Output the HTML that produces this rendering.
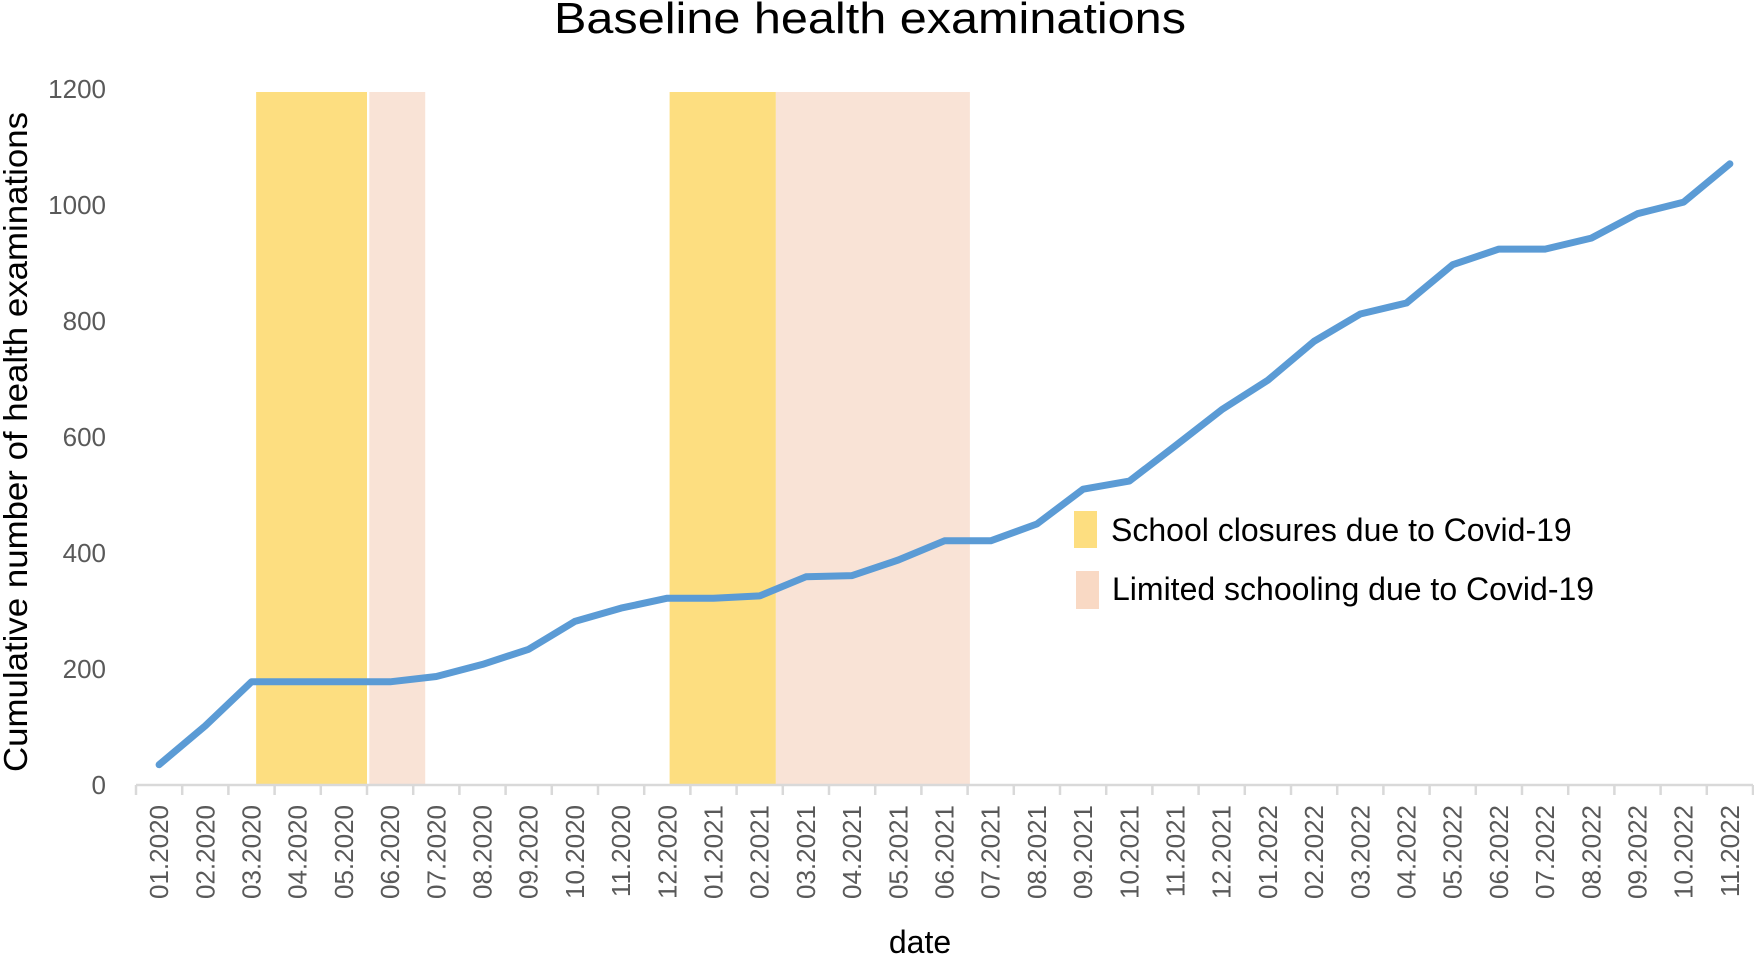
<!DOCTYPE html>
<html><head><meta charset="utf-8"><style>
html,body{margin:0;padding:0;background:#fff;}
svg{display:block;}
</style></head><body>
<svg id="chart" width="1754" height="956" viewBox="0 0 1754 956" xmlns="http://www.w3.org/2000/svg" font-family="'Liberation Sans', sans-serif">
<text x="870" y="33" font-size="44" text-anchor="middle" fill="#000" textLength="632" lengthAdjust="spacingAndGlyphs">Baseline health examinations</text>
<text transform="translate(27,442) rotate(-90)" font-size="33" text-anchor="middle" fill="#000" textLength="660" lengthAdjust="spacingAndGlyphs">Cumulative number of health examinations</text>
<text x="920" y="953" font-size="32" text-anchor="middle" fill="#000">date</text>
<g id="bands"></g>
<g id="axes"></g>
<g id="series"></g>
<g>
<rect x="1074" y="511" width="23" height="37" fill="#fdde80"/>
<text x="1111" y="541" font-size="32" fill="#000">School closures due to Covid-19</text>
<rect x="1076" y="571" width="23" height="38" fill="#f9d9c4"/>
<text x="1112" y="600" font-size="32" fill="#000">Limited schooling due to Covid-19</text>
</g>
</svg>
<script>
const categories = ["01.2020","02.2020","03.2020","04.2020","05.2020","06.2020","07.2020","08.2020","09.2020","10.2020","11.2020","12.2020","01.2021","02.2021","03.2021","04.2021","05.2021","06.2021","07.2021","08.2021","09.2021","10.2021","11.2021","12.2021","01.2022","02.2022","03.2022","04.2022","05.2022","06.2022","07.2022","08.2022","09.2022","10.2022","11.2022"];
const examValues = [35,102,178,178,178,178,187,208,234,282,305,322,322,326,359,361,388,421,421,450,510,524,585,647,698,765,812,831,897,924,924,943,985,1005,1071];
const yTicks = [0,200,400,600,800,1000,1200];
const closureBands = [[2.6,5.0],[11.55,13.85]];
const limitedBands = [[5.05,6.26],[13.85,18.05]];

const NS = "http://www.w3.org/2000/svg";
const X0 = 136, CW = 46.2, Y0 = 785, YTOP = 89, YMAX = 1200;
function xEdge(i){ return X0 + i*CW; }
function xCenter(i){ return X0 + (i+0.5)*CW; }
function yScale(v){ return Y0 - (v/YMAX)*(Y0-YTOP); }
function mk(tag, attrs, parent){ const e=document.createElementNS(NS,tag); for(const k in attrs) e.setAttribute(k,attrs[k]); parent.appendChild(e); return e; }

const bands = document.getElementById('bands');
closureBands.forEach(b=>{
  const r = mk('rect',{x:xEdge(b[0]),y:yScale(YMAX)+3,width:xEdge(b[1])-xEdge(b[0]),height:Y0-yScale(YMAX)-3,fill:'#fdde80'},bands);
  
  
});
limitedBands.forEach(b=>{
  const r = mk('rect',{x:xEdge(b[0]),y:yScale(YMAX)+3,width:xEdge(b[1])-xEdge(b[0]),height:Y0-yScale(YMAX)-3,fill:'#f9e3d6'},bands);
  
  
});

const axes = document.getElementById('axes');
const axisLine = mk('line',{x1:X0,y1:Y0,x2:xEdge(categories.length),y2:Y0,stroke:'#d9d9d9','stroke-width':2.5},axes);


for(let i=0;i<=categories.length;i++){
  const t = mk('line',{x1:xEdge(i),y1:Y0,x2:xEdge(i),y2:Y0+10,stroke:'#d9d9d9','stroke-width':2.5},axes);
  
  
}
categories.forEach((c,i)=>{
  const x = xCenter(i)+9, y = Y0+20;
  const t = mk('text',{transform:`translate(${x},${y}) rotate(-90)`,'font-size':26,'text-anchor':'end',fill:'#595959'},axes);
  t.textContent = c;
  
  
});
yTicks.forEach(v=>{
  const t = mk('text',{x:106,y:yScale(v)+9,'font-size':26,'text-anchor':'end',fill:'#595959'},axes);
  t.textContent = v;
  
  
});

const series = document.getElementById('series');
const pts = examValues.map((v,i)=>xCenter(i).toFixed(1)+','+yScale(v).toFixed(1)).join(' ');
const line = mk('polyline',{points:pts,fill:'none',stroke:'#5b9bd5','stroke-width':7,'stroke-linejoin':'round','stroke-linecap':'round'},series);


</script>
</body></html>
